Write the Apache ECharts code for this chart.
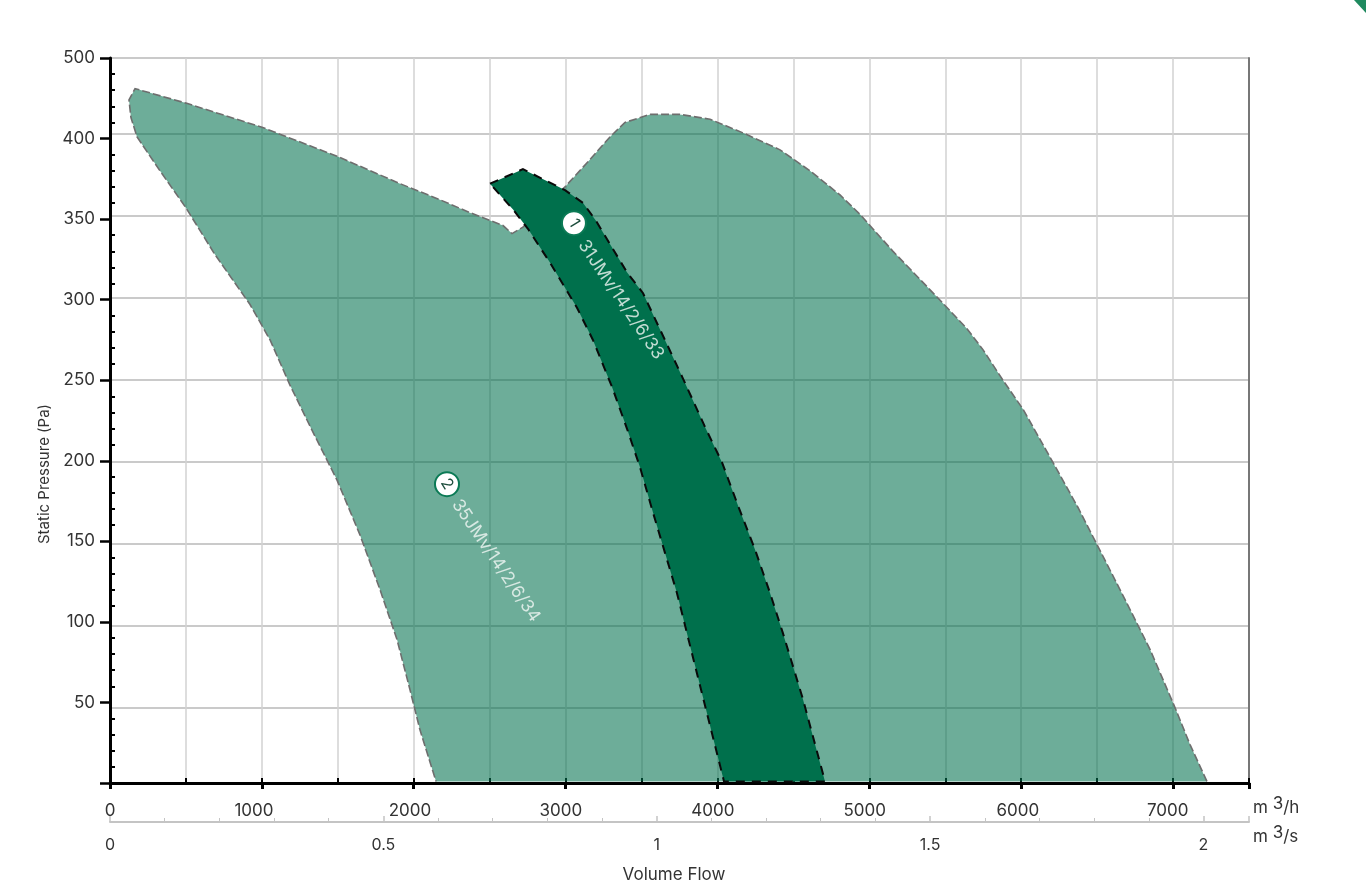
<!DOCTYPE html>
<html>
<head>
<meta charset="utf-8">
<title>Volume Flow vs Static Pressure</title>
<script src="https://cdn.jsdelivr.net/npm/echarts@6/dist/echarts.min.js"></script>
<style>
html, body { margin: 0; padding: 0; background: #fff; }
#chart { width: 1366px; height: 893px; }
</style>
</head>
<body>
<div id="chart"></div>
<script>
// Outline of the wide fan range (35JMv), flow in m3/h, pressure on the printed tick scale.
// Starts at the bottom right and ends at the bottom left, the bottom edge has no dashes.
const wideFlow = [7223, 7111, 7012, 6848, 6683, 6499, 6374, 6209, 6012, 5880, 5748, 5643, 5452, 5156, 4938, 4807, 4609, 4412, 4181, 3951,
	3753, 3556, 3391, 3292, 3161, 2996, 2719, 2647, 2588, 2370, 2173, 1910, 1495, 1001, 500,
	165, 125, 138, 178, 329, 500, 691, 922, 1054, 1185, 1330, 1495, 1646, 1778, 1890, 1975, 2041, 2147]
const widePressure = [1, 24, 47, 83, 114, 148, 171, 199, 232, 250, 269, 282, 301, 330, 353, 365, 380, 393, 403, 412,
	415, 415, 410, 401, 387, 370, 345, 341, 346, 354, 362, 372, 389, 407, 422,
	431, 424, 413, 401, 380, 357, 328, 297, 275, 247, 219, 188, 154, 120, 89, 58, 33, 1]

// Outline of the narrow fan range (31JMv)
const narrowFlow = [2502, 2719, 2996, 3115, 3200, 3404, 3510, 3654, 3773, 3918, 4030, 4148, 4247, 4346, 4431, 4563, 4708,
	4043, 3905, 3799, 3733, 3654, 3575, 3490, 3404, 3305, 3180, 3075, 2897, 2752, 2654]
const narrowPressure = [372, 381, 368, 360, 349, 317, 304, 275, 251, 221, 199, 169, 145, 118, 93, 52, 1,
	1, 53, 93, 118, 143, 168, 196, 220, 246, 275, 295, 323, 344, 356]

const badges = [
	{ value: [3055, 347.5], name: '1' },
	{ value: [2219, 185.5], name: '2' }
]
const captions = [
	{ value: [3365, 300], name: '31JMv/14/2/6/33' },
	{ value: [2542, 138], name: '35JMv/14/2/6/34' }
]

// The printed pressure ticks skip 450: the top tick reads 500
const pressureTickValues = [0, 50, 100, 150, 200, 250, 300, 350, 400, 450]
const pressureTickLabels = ['', '50', '100', '150', '200', '250', '300', '350', '400', '500']
// The grid lines do not sit exactly on the ticks in the source
const pressureGridValues = [46.5, 97.4, 148.3, 199.2, 250, 301, 352, 402.8, 450]
const pressureMinorValues = [10, 20, 30, 40, 60, 70, 80, 90, 110, 120, 130, 140, 160, 170, 180, 190, 210, 220, 230, 240,
	260, 270, 280, 290, 310, 320, 330, 340, 360, 370, 380, 390, 410, 420, 430, 440]

const flowLabelValues = [0, 948, 1975, 2969, 3970, 4970, 5978, 6965]
const flowLabels = ['0', '1000', '2000', '3000', '4000', '5000', '6000', '7000']

const flowMax = 7500
const flowSecondMax = flowMax / 3600
const pressureMax = 450

const textColor = '#333'
const labelFont = 'Inter'

const chart = echarts.init(document.getElementById('chart'))

const envelopeSeries = (flow, pressure, fill, stroke, lineWidth, dash, closed) => ({
	type: 'custom',
	coordinateSystem: 'cartesian2d',
	silent: true,
	clip: false,
	data: flow.map((f, i) => [f, pressure[i]]),
	encode: { x: 0, y: 1 },
	renderItem: (params, api) => {
		if (params.dataIndex !== 0) return null
		const points = flow.map((f, i) => api.coord([f, pressure[i]]))
		const outline = { stroke: stroke, lineWidth: lineWidth, lineDash: dash, fill: null }
		return {
			type: 'group',
			children: [
				{ type: 'polygon', shape: { points: points }, style: { fill: fill, stroke: null } },
				{ type: closed ? 'polygon' : 'polyline', shape: { points: points }, style: outline }
			]
		}
	}
})

const hiddenLine = { show: false }

const option = {
	animation: false,
	backgroundColor: '#fff',
	grid: { left: 110, right: 117, top: 58, bottom: 110, containLabel: false },
	xAxis: [
		{
			// main axis: line, grid lines, small upward ticks each 500
			type: 'value', position: 'bottom', min: 0, max: flowMax, interval: 500,
			axisLine: { show: true, onZero: false, lineStyle: { color: '#000', width: 3 } },
			axisTick: { show: true, inside: true, length: 5, lineStyle: { color: '#000', width: 2 } },
			axisLabel: { show: false },
			splitLine: { show: true, lineStyle: { color: '#d2d2d2', width: 1.5 } }
		},
		{
			// heavy ticks and labels each 1000
			type: 'value', position: 'bottom', min: 0, max: flowMax, interval: 1000,
			axisLine: { show: false, onZero: false },
			axisTick: { show: true, length: 6, lineStyle: { color: '#000', width: 3 } },
			axisLabel: {
				show: true, margin: 19, color: textColor, fontFamily: labelFont, fontSize: 17,
				customValues: flowLabelValues,
				showMinLabel: true,
				formatter: (v) => flowLabels[flowLabelValues.indexOf(v)]
			},
			splitLine: { show: false }
		},
		{
			// m3/s scale below
			type: 'value', position: 'bottom', offset: 39, min: 0, max: flowSecondMax, interval: 0.5,
			minorTick: { show: true, splitNumber: 5, length: 4, lineStyle: { color: '#c4c4c4', width: 1 } },
			axisLine: { show: true, onZero: false, lineStyle: { color: '#c4c4c4', width: 2 } },
			axisTick: { show: true, inside: true, length: 6, lineStyle: { color: '#c4c4c4', width: 1.5 } },
			axisLabel: {
				show: true, margin: 15, color: textColor, fontFamily: labelFont, fontSize: 16,
				showMaxLabel: false
			},
			splitLine: { show: false }
		}
	],
	yAxis: [
		{
			// data axis with the printed labels
			type: 'value', position: 'left', min: 0, max: pressureMax, interval: 50,
			axisLine: { show: true, onZero: false, lineStyle: { color: '#000', width: 3 } },
			axisTick: { show: true, length: 10, lineStyle: { color: '#000', width: 2.5 } },
			axisLabel: {
				show: true, margin: 15, color: textColor, fontFamily: labelFont, fontSize: 17,
				formatter: (v) => pressureTickLabels[pressureTickValues.indexOf(v)]
			},
			splitLine: { show: false }
		},
		{
			// short inner ticks
			type: 'value', position: 'left', min: 0, max: pressureMax,
			axisLine: hiddenLine,
			axisTick: { show: true, inside: true, length: 5, customValues: pressureMinorValues, lineStyle: { color: '#000', width: 2 } },
			axisLabel: { show: false },
			splitLine: { show: false }
		},
		{
			// horizontal grid lines
			type: 'value', position: 'right', min: 0, max: pressureMax,
			axisLine: { show: true, onZero: false, lineStyle: { color: '#777', width: 2 } },
			axisTick: { show: false, customValues: pressureGridValues },
			axisLabel: { show: false },
			splitLine: { show: true, lineStyle: { color: '#b8b8b8', width: 1.5 } }
		}
	],
	series: [
		envelopeSeries(wideFlow, widePressure, 'rgba(0, 112, 76, 0.573)', '#6e6e6e', 1.6, [8, 3], false),
		envelopeSeries(narrowFlow, narrowPressure, '#00704c', '#0a0a0a', 2, [9, 7], true),
		{
			type: 'scatter', silent: true, symbol: 'circle', symbolSize: 24, z: 5,
			data: badges,
			itemStyle: { color: '#fff', borderColor: '#0b7a55', borderWidth: 2, opacity: 1 },
			label: {
				show: true, position: 'inside', formatter: '{b}', rotate: -58,
				color: '#1d4d3c', fontFamily: labelFont, fontSize: 16
			}
		},
		{
			type: 'scatter', silent: true, symbolSize: 0, z: 5,
			data: captions,
			label: {
				show: true, position: 'inside', align: 'center', verticalAlign: 'middle', formatter: '{b}', rotate: -56,
				color: '#f2f8f5', fontFamily: labelFont, fontSize: 17.5
			}
		}
	],
	graphic: [
		{
			type: 'text', x: 44, y: 474, rotation: Math.PI / 2,
			style: { text: 'Static Pressure (Pa)', fontSize: 15, fontFamily: labelFont, fill: textColor, align: 'center', verticalAlign: 'middle' }
		},
		{
			type: 'text', x: 674, y: 875,
			style: { text: 'Volume Flow', fontSize: 17, fontFamily: labelFont, fill: textColor, align: 'center', verticalAlign: 'middle' }
		},
		{
			type: 'text', left: 1253, top: 795,
			style: {
				rich: { m: { fontSize: 17, fontFamily: labelFont, fill: textColor }, sup: { fontSize: 17, fontFamily: labelFont, fill: textColor, padding: [0, 0, 8, 0] } },
				text: '{m|m }{sup|3}{m|/h}'
			}
		},
		{
			type: 'text', left: 1253, top: 824,
			style: {
				rich: { m: { fontSize: 17, fontFamily: labelFont, fill: textColor }, sup: { fontSize: 17, fontFamily: labelFont, fill: textColor, padding: [0, 0, 8, 0] } },
				text: '{m|m }{sup|3}{m|/s}'
			}
		},
		{
			// page corner ornament
			type: 'polygon', silent: true,
			shape: { points: [[1354, 0], [1366, 0], [1366, 13]] },
			style: { fill: '#1f8a5f' }
		}
	]
}

chart.setOption(option)
</script>
</body>
</html>
